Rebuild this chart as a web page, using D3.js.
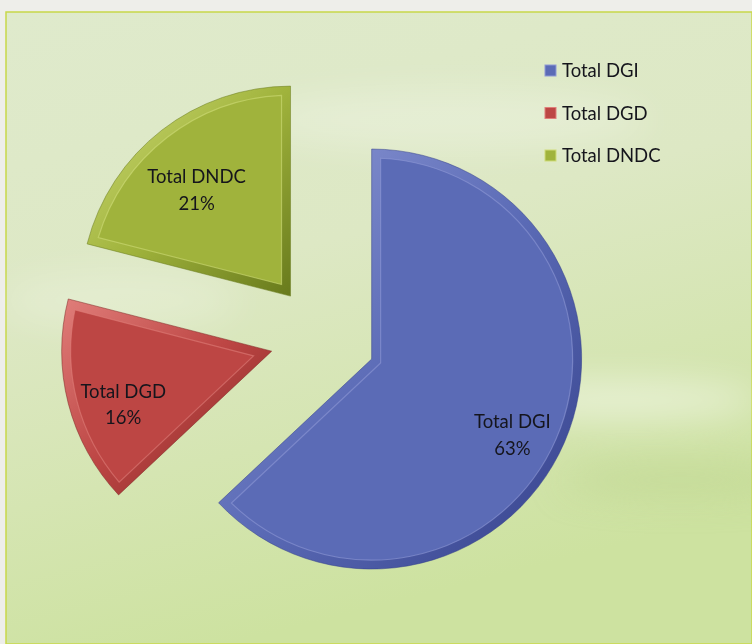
<!DOCTYPE html>
<html><head><meta charset="utf-8">
<script src="https://cdn.jsdelivr.net/npm/d3@7"></script>
<style>html,body{margin:0;padding:0;background:#f0f0ec;}svg{display:block;}</style>
</head><body>
<script>
const categories = ["Total DGI", "Total DGD", "Total DNDC"];
const values = [63, 16, 21];
const labels = ["63%", "16%", "21%"];
const colors = ["#5b6bb6", "#bd4644", "#a0b33c"];
const lightColors = ["#8f9ad6", "#e07e7a", "#cfdc78"];
const darkColors = ["#34408a", "#7e2422", "#687a1c"];

const W = 752, H = 644;
const svg = d3.select("body").append("svg").attr("width", W).attr("height", H);
const defs = svg.append("defs");

// background
const bg = defs.append("linearGradient").attr("id","bg").attr("x1","0").attr("y1","0").attr("x2","0.3").attr("y2","1");
bg.append("stop").attr("offset","0").attr("stop-color","#dfeacc");
bg.append("stop").attr("offset","0.45").attr("stop-color","#dde8c4");
bg.append("stop").attr("offset","1").attr("stop-color","#cde2a0");
svg.append("rect").attr("width",W).attr("height",H).attr("fill","#eeeeea");
svg.append("rect").attr("x",6).attr("y",12).attr("width",W-6).attr("height",H-12)
  .attr("fill","url(#bg)").attr("stroke","#c8d84a").attr("stroke-width",1.5);
const blur = defs.append("filter").attr("id","blur").attr("x","-50%").attr("y","-50%").attr("width","200%").attr("height","200%");
blur.append("feGaussianBlur").attr("stdDeviation",18);
const clouds = svg.append("g").attr("filter","url(#blur)").attr("opacity",0.5);
clouds.append("ellipse").attr("cx",620).attr("cy",400).attr("rx",140).attr("ry",18).attr("fill","#ffffff");
clouds.append("ellipse").attr("cx",450).attr("cy",120).attr("rx",200).attr("ry",30).attr("fill","#ffffff").attr("opacity",0.5);
clouds.append("ellipse").attr("cx",120).attr("cy",300).attr("rx",120).attr("ry",30).attr("fill","#ffffff").attr("opacity",0.4);
clouds.append("ellipse").attr("cx",680).attr("cy",480).attr("rx",120).attr("ry",14).attr("fill","#b8d088");

// pie
const cx = 323, cy = 338, R = 210, explode = 53, bevel = 9;
const pie = d3.pie().sort(null).value(d => d)(values);
const arc = d3.arc().innerRadius(0).outerRadius(R);
const g = svg.append("g").attr("transform", `translate(${cx},${cy})`);

pie.forEach((p, i) => {
  const gr = defs.append("linearGradient").attr("id","bv"+i)
    .attr("x1","0").attr("y1","0").attr("x2","1").attr("y2","1");
  gr.append("stop").attr("offset","0").attr("stop-color",lightColors[i]);
  gr.append("stop").attr("offset","0.5").attr("stop-color",colors[i]);
  gr.append("stop").attr("offset","1").attr("stop-color",darkColors[i]);
});

const slices = g.selectAll("g.slice").data(pie).join("g").attr("class","slice")
  .attr("transform", d => {
    const m = (d.startAngle + d.endAngle) / 2;
    return `translate(${Math.sin(m)*explode},${-Math.cos(m)*explode})`;
  });

// outer bevel band
slices.append("path").attr("d", arc).attr("fill", (d,i) => `url(#bv${i})`)
  .attr("stroke", (d,i) => darkColors[i]).attr("stroke-opacity",0.5).attr("stroke-width",1);

// inset face
function insetPath(d) {
  const a0 = d.startAngle, a1 = d.endAngle, th = a1 - a0, m = (a0 + a1) / 2;
  const dv = bevel / Math.sin(th / 2);
  const vx = Math.sin(m) * dv, vy = -Math.cos(m) * dv;
  const r = R - bevel;
  const del = Math.asin(bevel / r);
  const b0 = a0 + del, b1 = a1 - del;
  const p = d3.path();
  p.moveTo(vx, vy);
  p.lineTo(Math.sin(b0) * r, -Math.cos(b0) * r);
  p.arc(0, 0, r, b0 - Math.PI / 2, b1 - Math.PI / 2, false);
  p.closePath();
  return p.toString();
}
slices.append("path").attr("d", insetPath).attr("fill", (d,i) => colors[i])
  .attr("stroke", (d,i) => lightColors[i]).attr("stroke-opacity",0.6).attr("stroke-width",1.2);

// labels
const lr = R * 0.73;
const lab = slices.append("text")
  .attr("transform", d => {
    const m = (d.startAngle + d.endAngle) / 2;
    return `translate(${Math.sin(m)*lr},${-Math.cos(m)*lr + 12})`;
  })
  .attr("text-anchor","middle").attr("font-family","Lato, 'Open Sans', sans-serif")
  .attr("font-size",18.5).attr("fill","#15151c");
lab.append("tspan").attr("x",0).attr("dy","-0.2em").text((d,i) => categories[i]);
lab.append("tspan").attr("x",0).attr("dy","1.45em").text((d,i) => labels[i]);

// legend
const leg = svg.append("g").attr("transform","translate(545,65)");
const li = leg.selectAll("g").data(categories).join("g")
  .attr("transform",(d,i) => `translate(0,${i*42.5})`);
li.append("rect").attr("width",11).attr("height",11).attr("fill",(d,i)=>colors[i])
  .attr("stroke",(d,i)=>lightColors[i]).attr("stroke-width",1);
li.append("text").attr("x",17).attr("y",12).attr("font-family","Lato, 'Open Sans', sans-serif")
  .attr("font-size",18.5).attr("fill","#15151c").text(d => d);
</script>
</body></html>
